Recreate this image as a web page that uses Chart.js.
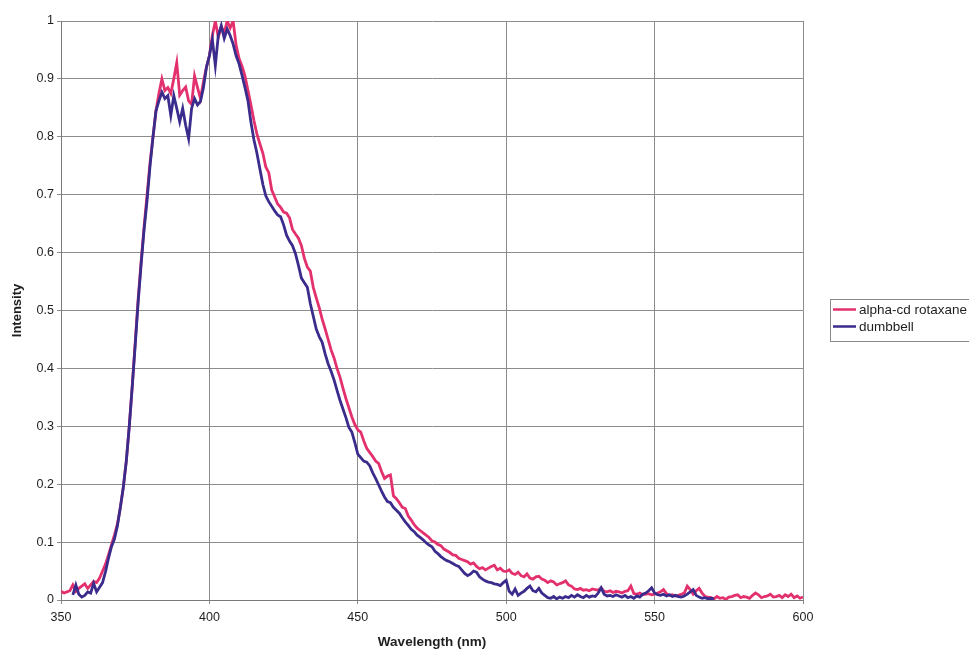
<!DOCTYPE html>
<html>
<head>
<meta charset="utf-8">
<script src="https://cdn.jsdelivr.net/npm/chart.js@4.4.1/dist/chart.umd.min.js"></script>
<style>
  html, body { margin: 0; padding: 0; background: #ffffff; }
  #wrap { width: 969px; height: 650px; position: relative; }
</style>
</head>
<body>
<div id="wrap"><canvas id="chart" width="969" height="650"></canvas></div>
<script>
// Emission wavelengths (nm), 1 nm steps
const wavelengths = [
  350, 351, 352, 353, 354, 355, 356, 357, 358, 359,
  360, 361, 362, 363, 364, 365, 366, 367, 368, 369,
  370, 371, 372, 373, 374, 375, 376, 377, 378, 379,
  380, 381, 382, 383, 384, 385, 386, 387, 388, 389,
  390, 391, 392, 393, 394, 395, 396, 397, 398, 399,
  400, 401, 402, 403, 404, 405, 406, 407, 408, 409,
  410, 411, 412, 413, 414, 415, 416, 417, 418, 419,
  420, 421, 422, 423, 424, 425, 426, 427, 428, 429,
  430, 431, 432, 433, 434, 435, 436, 437, 438, 439,
  440, 441, 442, 443, 444, 445, 446, 447, 448, 449,
  450, 451, 452, 453, 454, 455, 456, 457, 458, 459,
  460, 461, 462, 463, 464, 465, 466, 467, 468, 469,
  470, 471, 472, 473, 474, 475, 476, 477, 478, 479,
  480, 481, 482, 483, 484, 485, 486, 487, 488, 489,
  490, 491, 492, 493, 494, 495, 496, 497, 498, 499,
  500, 501, 502, 503, 504, 505, 506, 507, 508, 509,
  510, 511, 512, 513, 514, 515, 516, 517, 518, 519,
  520, 521, 522, 523, 524, 525, 526, 527, 528, 529,
  530, 531, 532, 533, 534, 535, 536, 537, 538, 539,
  540, 541, 542, 543, 544, 545, 546, 547, 548, 549,
  550, 551, 552, 553, 554, 555, 556, 557, 558, 559,
  560, 561, 562, 563, 564, 565, 566, 567, 568, 569,
  570, 571, 572, 573, 574, 575, 576, 577, 578, 579,
  580, 581, 582, 583, 584, 585, 586, 587, 588, 589,
  590, 591, 592, 593, 594, 595, 596, 597, 598, 599,
  600
];

// Normalised emission intensity, alpha-cd rotaxane
const rotaxane = [
  0.015, 0.012, 0.014, 0.016, 0.026, 0.015, 0.020, 0.024, 0.028, 0.020,
  0.026, 0.032, 0.030, 0.038, 0.050, 0.062, 0.078, 0.095, 0.112, 0.131,
  0.160, 0.195, 0.240, 0.300, 0.370, 0.445, 0.520, 0.585, 0.645, 0.700,
  0.755, 0.800, 0.845, 0.875, 0.900, 0.880, 0.885, 0.875, 0.900, 0.928,
  0.872, 0.880, 0.886, 0.862, 0.856, 0.905, 0.885, 0.866, 0.895, 0.920,
  0.940, 0.975, 1.000, 0.972, 0.990, 0.980, 1.000, 0.988, 1.000, 0.958,
  0.935, 0.922, 0.905, 0.880, 0.855, 0.828, 0.805, 0.788, 0.772, 0.748,
  0.738, 0.708, 0.696, 0.684, 0.678, 0.670, 0.668, 0.660, 0.640, 0.632,
  0.625, 0.612, 0.590, 0.575, 0.568, 0.540, 0.522, 0.505, 0.485, 0.468,
  0.450, 0.432, 0.418, 0.400, 0.385, 0.366, 0.348, 0.332, 0.316, 0.303,
  0.294, 0.290, 0.275, 0.262, 0.255, 0.248, 0.240, 0.236, 0.222, 0.210,
  0.214, 0.216, 0.180, 0.175, 0.168, 0.160, 0.158, 0.145, 0.138, 0.130,
  0.124, 0.120, 0.116, 0.112, 0.108, 0.102, 0.100, 0.096, 0.094, 0.088,
  0.085, 0.082, 0.078, 0.077, 0.072, 0.070, 0.068, 0.066, 0.062, 0.064,
  0.058, 0.054, 0.056, 0.052, 0.055, 0.058, 0.060, 0.052, 0.055, 0.050,
  0.049, 0.052, 0.046, 0.044, 0.048, 0.042, 0.040, 0.045, 0.038, 0.036,
  0.040, 0.041, 0.036, 0.034, 0.030, 0.033, 0.031, 0.026, 0.028, 0.030,
  0.033, 0.026, 0.024, 0.019, 0.018, 0.020, 0.017, 0.018, 0.016, 0.019,
  0.018, 0.017, 0.021, 0.015, 0.014, 0.016, 0.013, 0.015, 0.014, 0.012,
  0.015, 0.016, 0.024, 0.011, 0.010, 0.012, 0.009, 0.010, 0.011, 0.009,
  0.010, 0.012, 0.014, 0.018, 0.011, 0.008, 0.009, 0.007, 0.008, 0.010,
  0.012, 0.024, 0.018, 0.010, 0.016, 0.020, 0.012, 0.006, 0.005, 0.004,
  0.002, 0.006, 0.003, 0.004, 0.001, 0.005, 0.006, 0.008, 0.009, 0.004,
  0.006, 0.005, 0.003, 0.008, 0.012, 0.009, 0.004, 0.006, 0.007, 0.010,
  0.005, 0.006, 0.008, 0.004, 0.009, 0.006, 0.010, 0.004, 0.007, 0.003,
  0.005
];

// Normalised emission intensity, dumbbell (recorded 354-570 nm)
const dumbbell = [
  null, null, null, null, 0.009, 0.026, 0.010, 0.005, 0.008, 0.014,
  0.012, 0.029, 0.014, 0.022, 0.030, 0.049, 0.072, 0.092, 0.105, 0.128,
  0.160, 0.195, 0.240, 0.300, 0.368, 0.440, 0.515, 0.580, 0.640, 0.690,
  0.750, 0.800, 0.845, 0.862, 0.877, 0.866, 0.871, 0.837, 0.871, 0.849,
  0.826, 0.849, 0.820, 0.797, 0.849, 0.866, 0.855, 0.861, 0.885, 0.920,
  0.940, 0.968, 0.923, 0.975, 0.992, 0.970, 0.986, 0.975, 0.960, 0.940,
  0.926, 0.906, 0.885, 0.862, 0.825, 0.795, 0.772, 0.745, 0.718, 0.698,
  0.688, 0.680, 0.672, 0.665, 0.662, 0.648, 0.630, 0.620, 0.612, 0.598,
  0.578, 0.556, 0.548, 0.540, 0.512, 0.490, 0.468, 0.455, 0.445, 0.425,
  0.408, 0.395, 0.380, 0.362, 0.345, 0.330, 0.315, 0.298, 0.290, 0.272,
  0.252, 0.246, 0.240, 0.238, 0.232, 0.220, 0.210, 0.199, 0.188, 0.178,
  0.170, 0.168, 0.160, 0.155, 0.150, 0.142, 0.135, 0.129, 0.122, 0.118,
  0.112, 0.108, 0.104, 0.099, 0.095, 0.092, 0.084, 0.080, 0.075, 0.071,
  0.068, 0.066, 0.063, 0.060, 0.058, 0.052, 0.046, 0.042, 0.045, 0.050,
  0.048, 0.040, 0.036, 0.033, 0.031, 0.030, 0.028, 0.027, 0.025, 0.030,
  0.034, 0.015, 0.010, 0.019, 0.008, 0.012, 0.015, 0.020, 0.024, 0.016,
  0.014, 0.020, 0.012, 0.008, 0.004, 0.003, 0.006, 0.002, 0.005, 0.003,
  0.006, 0.004, 0.008, 0.005, 0.009, 0.006, 0.004, 0.008, 0.005, 0.007,
  0.006, 0.012, 0.021, 0.010, 0.007, 0.008, 0.006, 0.009, 0.007, 0.005,
  0.008, 0.004, 0.006, 0.003, 0.007, 0.005, 0.010, 0.012, 0.016, 0.021,
  0.012, 0.009, 0.008, 0.010, 0.007, 0.009, 0.006, 0.008, 0.006, 0.005,
  0.007, 0.010, 0.014, 0.018, 0.008, 0.005, 0.003, 0.004, 0.002, 0.003,
  0.002, null, null, null, null, null, null, null, null, null,
  null, null, null, null, null, null, null, null, null, null,
  null, null, null, null, null, null, null, null, null, null,
  null
];

const seriesNames = ['alpha-cd rotaxane', 'dumbbell'];
const seriesColors = ['#e3306e', '#3a2c8c'];

const FONT = '"Liberation Sans", Arial, Helvetica, sans-serif';
const toPoints = (values) => wavelengths.map((w, i) => ({ x: w, y: values[i] }));

// Boxed legend to the right of the plot area (runs off the right edge)
const boxedLegend = {
  id: 'boxedLegend',
  afterDraw(chart) {
    const c = chart.ctx;
    c.save();
    c.strokeStyle = '#8a8a8a';
    c.lineWidth = 1;
    c.strokeRect(830.5, 299.5, 160, 42);
    c.font = '13.5px ' + FONT;
    c.textBaseline = 'middle';
    c.textAlign = 'left';
    chart.data.datasets.forEach((ds, i) => {
      const y = 309.5 + i * 17;
      c.strokeStyle = ds.borderColor;
      c.lineWidth = 2.5;
      c.beginPath();
      c.moveTo(833, y);
      c.lineTo(856, y);
      c.stroke();
      c.fillStyle = '#1e1e1e';
      c.fillText(ds.label, 859, y + 0.5);
    });
    c.restore();
  }
};

new Chart(document.getElementById('chart'), {
  type: 'line',
  data: {
    datasets: [
      {
        label: seriesNames[0],
        data: toPoints(rotaxane),
        borderColor: seriesColors[0],
        backgroundColor: seriesColors[0],
        borderWidth: 2.8,
        pointRadius: 0,
        tension: 0,
        spanGaps: false,
        order: 1
      },
      {
        label: seriesNames[1],
        data: toPoints(dumbbell),
        borderColor: seriesColors[1],
        backgroundColor: seriesColors[1],
        borderWidth: 2.8,
        pointRadius: 0,
        tension: 0,
        spanGaps: false,
        order: 0
      }
    ]
  },
  options: {
    responsive: false,
    animation: false,
    devicePixelRatio: 1,
    layout: { padding: { left: 0, top: 21, right: 166, bottom: 0 } },
    plugins: {
      legend: { display: false },
      tooltip: { enabled: false }
    },
    scales: {
      x: {
        type: 'linear',
        min: 350,
        max: 600,
        ticks: {
          stepSize: 50,
          padding: 6,
          maxRotation: 0,
          color: '#1e1e1e',
          font: { family: FONT, size: 12.5 }
        },
        grid: { color: '#8c8c8c', lineWidth: 1, tickLength: 4 },
        border: { color: '#7a7a7a', width: 1 },
        title: {
          display: true,
          text: 'Wavelength (nm)',
          color: '#1e1e1e',
          font: { family: FONT, size: 13.5, weight: 'bold' },
          padding: { top: 0, bottom: 0 }
        },
        afterFit(scale) { scale.height = 50; }
      },
      y: {
        min: 0,
        max: 1,
        ticks: {
          stepSize: 0.1,
          padding: 3,
          color: '#1e1e1e',
          font: { family: FONT, size: 12.5 },
          callback: (v) => String(Number(v.toFixed(1)))
        },
        grid: { color: '#8c8c8c', lineWidth: 1, tickLength: 4 },
        border: { color: '#7a7a7a', width: 1 },
        title: {
          display: true,
          text: 'Intensity',
          color: '#1e1e1e',
          font: { family: FONT, size: 13, weight: 'bold' },
          padding: { top: 10, bottom: 0 }
        },
        afterFit(scale) { scale.width = 61; }
      }
    }
  },
  plugins: [boxedLegend]
});
</script>
</body>
</html>
